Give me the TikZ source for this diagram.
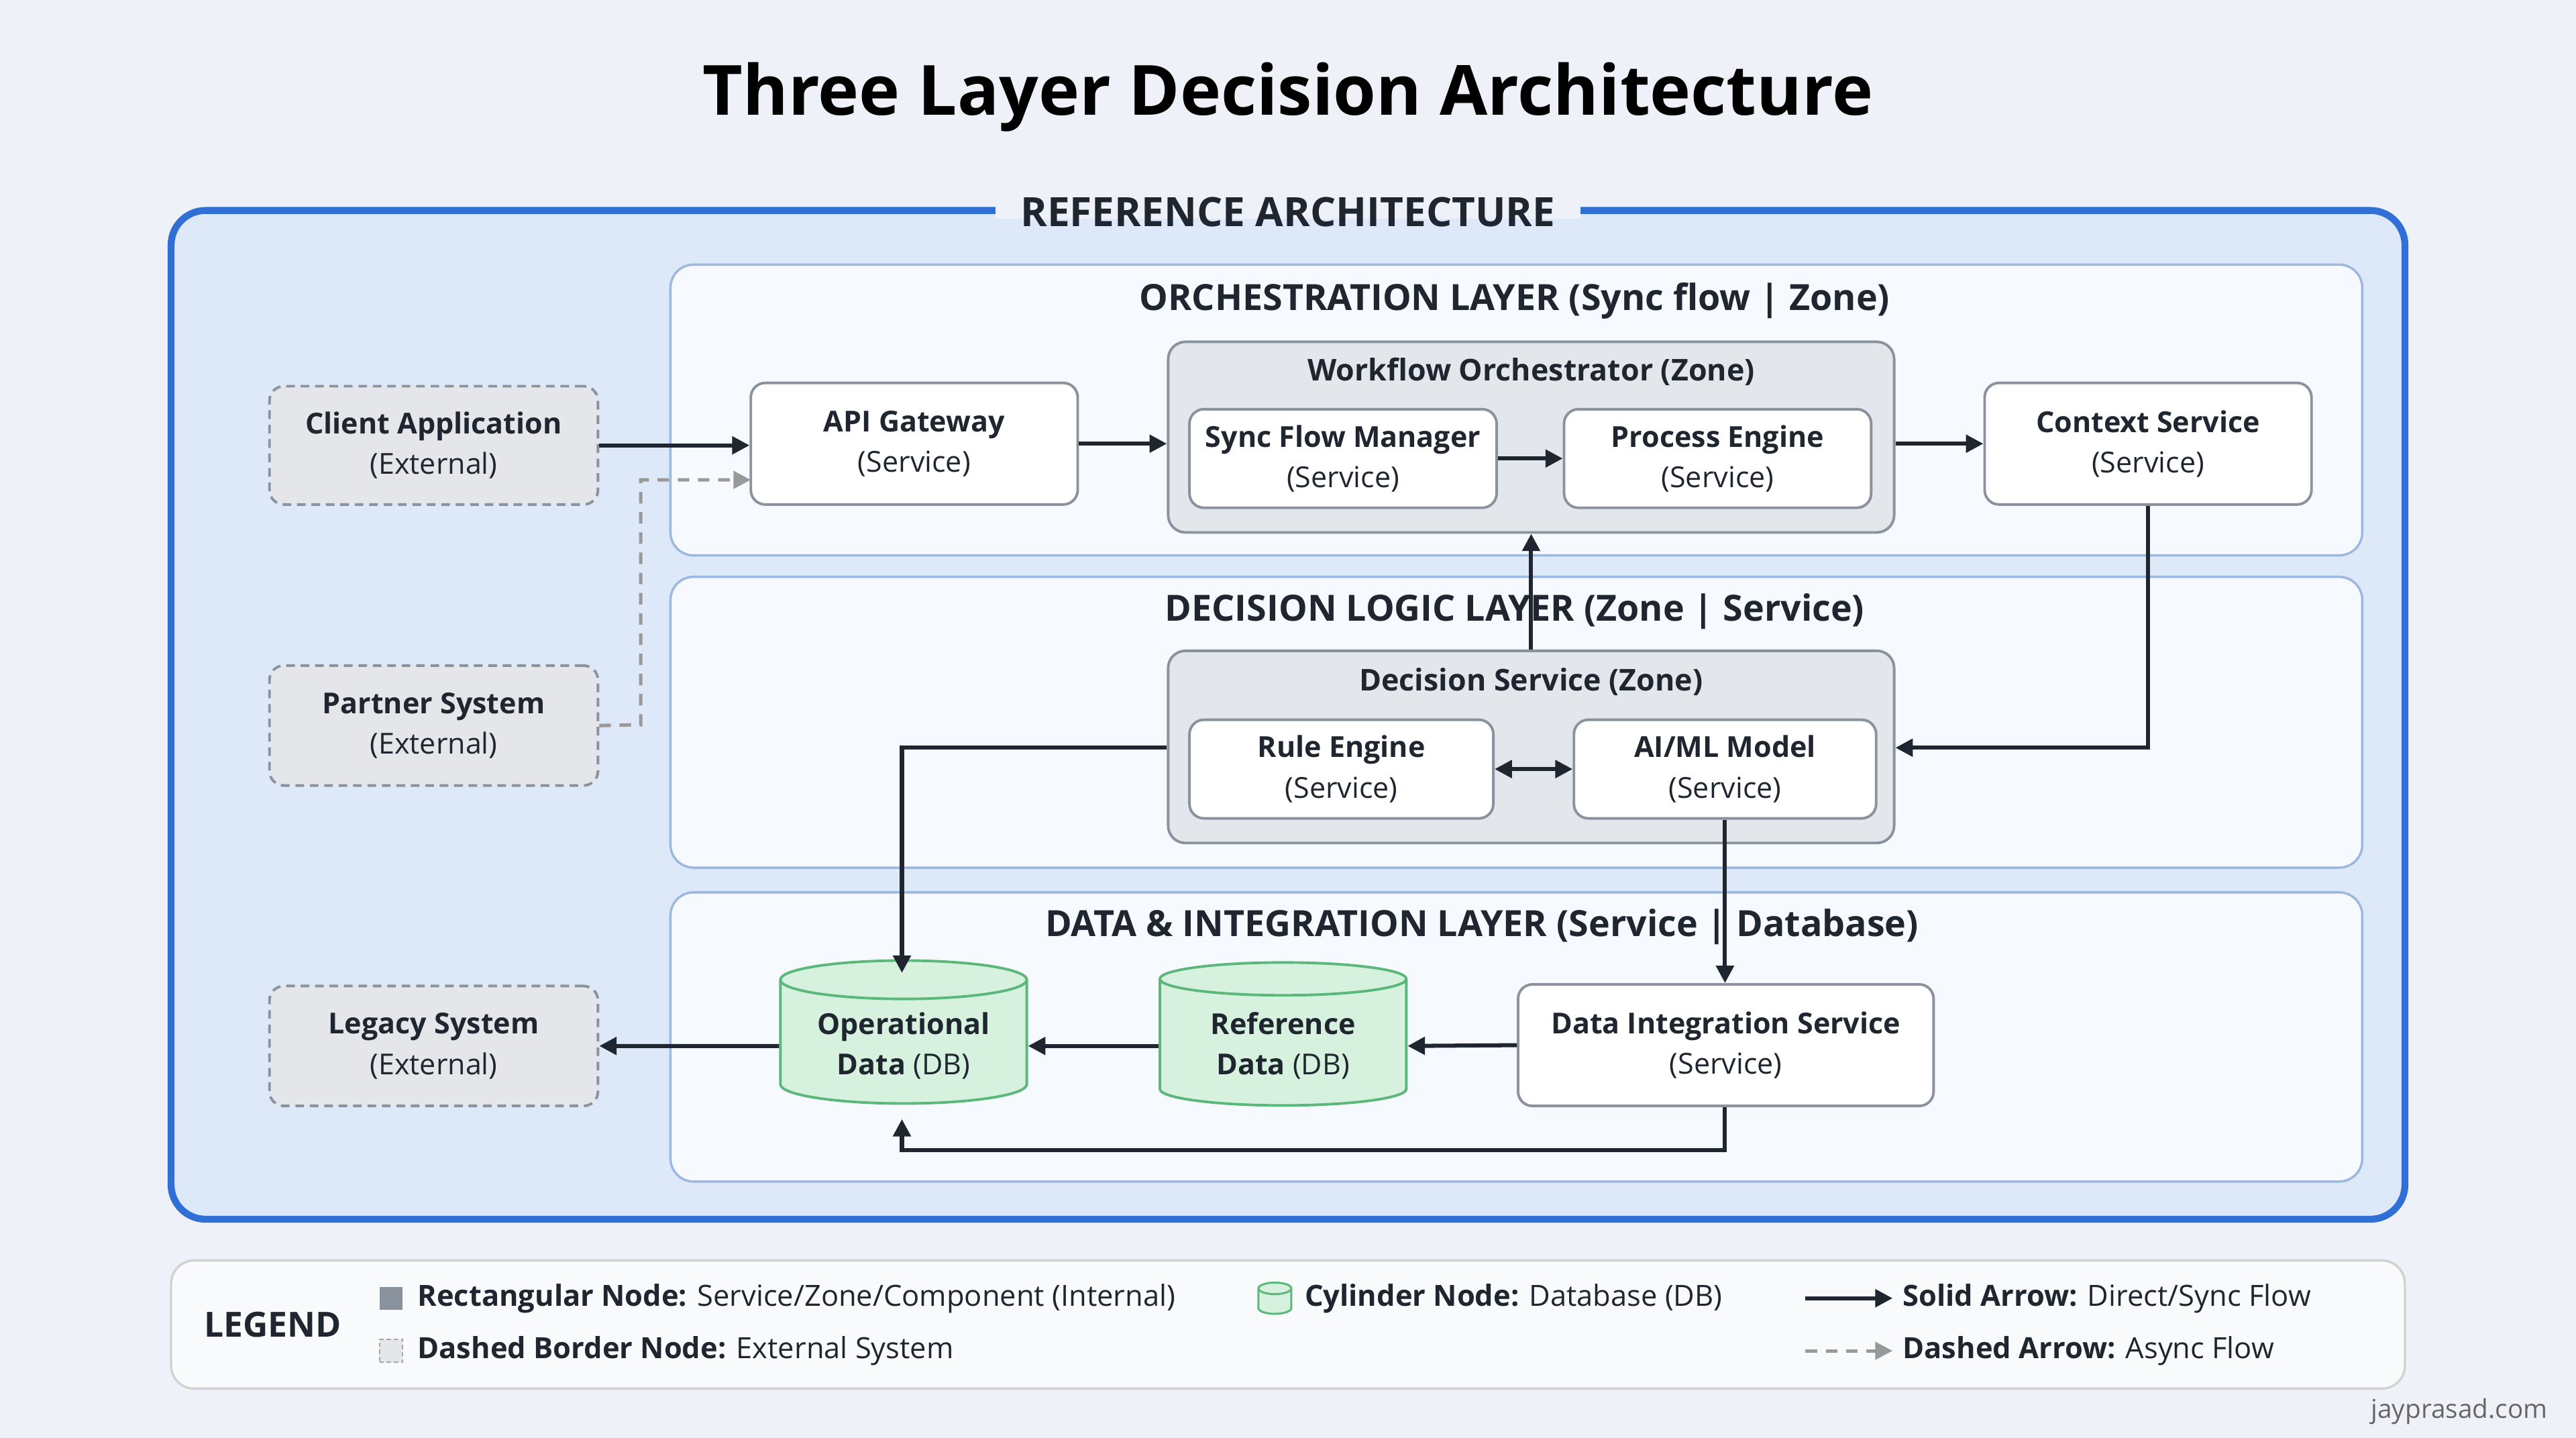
\documentclass[tikz,border=0pt]{standalone}
\usepackage{fontspec}
\setmainfont{Open Sans}
\usetikzlibrary{arrows.meta,shapes.geometric,calc}
\definecolor{bg}{HTML}{EEF2F8}
\definecolor{outerb}{HTML}{2F6FD6}
\definecolor{outerf}{HTML}{DDE8F8}
\definecolor{layerf}{HTML}{F6F9FD}
\definecolor{layerb}{HTML}{9DB8DE}
\definecolor{zonef}{HTML}{E3E6EB}
\definecolor{nodeb}{HTML}{8A929E}
\definecolor{extf}{HTML}{E4E6EA}
\definecolor{dbf}{HTML}{D6F2DE}
\definecolor{dbb}{HTML}{5CB87A}
\definecolor{ink}{HTML}{1F2630}
\begin{document}
\begin{tikzpicture}[x=0.02cm,y=-0.02cm,
  svc/.style={draw=nodeb,line width=0.9pt,fill=white,rounded corners=5pt,align=center,font=\fontsize{10}{14}\selectfont,text=ink},
  ext/.style={svc,fill=extf,dashed,dash pattern=on 3pt off 2pt},
  zone/.style={draw=nodeb,line width=0.9pt,fill=zonef,rounded corners=6pt},
  layer/.style={draw=layerb,line width=0.8pt,fill=layerf,rounded corners=8pt,minimum width=20.6cm},
  db/.style={cylinder,shape border rotate=90,aspect=0.2,draw=dbb,line width=0.9pt,cylinder uses custom fill,cylinder body fill=dbf,cylinder end fill=dbf,minimum width=3cm,minimum height=1.74cm,align=center,font=\fontsize{10}{14}\selectfont,text=ink},
  ttl/.style={font=\bfseries\fontsize{12.5}{15}\selectfont,text=ink},
  ztl/.style={font=\bfseries\fontsize{10.4}{12}\selectfont,text=ink},
  lt/.style={anchor=west,font=\fontsize{10.1}{12}\selectfont,text=ink},
  arr/.style={draw=ink,line width=1.4pt,-{Triangle[length=6pt,width=6pt]}},
  darr/.style={draw=gray!80,line width=1.2pt,dash pattern=on 4pt off 3pt,-{Triangle[length=6pt,width=6pt]}}
]
\fill[bg] (0,0) rectangle (1568,875);
\useasboundingbox (0,0) rectangle (1568,875);
\node[font=\bfseries\fontsize{24}{28}\selectfont,text=black] (title) at (784,59) {Three Layer Decision Architecture};
\node[draw=outerb,line width=2.4pt,fill=outerf,rounded corners=12pt,minimum width=27.2cm,minimum height=12.28cm] (outer) at (784,435) {};
\fill[bg] (606,125) rectangle (962,133);
\node[inner xsep=8pt,font=\bfseries\fontsize{14}{16}\selectfont,text=ink] (outert) at (784,129) {REFERENCE ARCHITECTURE};
% layers
\node[layer,minimum height=3.54cm] (lorch) at (923,249.5) {};
\node[layer,minimum height=3.54cm] (ldec) at (923,439.5) {};
\node[layer,minimum height=3.52cm] (ldata) at (923,631) {};
\node[ttl] (torch) at (922,183) {ORCHESTRATION LAYER (Sync flow | Zone)};
\node[ttl] (tdec) at (922,372) {DECISION LOGIC LAYER (Zone | Service)};
\node[ttl] (tdata) at (902,564) {DATA \& INTEGRATION LAYER (Service | Database)};
% externals
\node[ext,minimum width=4cm,minimum height=1.44cm] (client) at (264,271) {\textbf{Client Application}\\(External)};
\node[ext,minimum width=4cm,minimum height=1.46cm] (partner) at (264,441.5) {\textbf{Partner System}\\(External)};
\node[ext,minimum width=4cm,minimum height=1.46cm] (legacy) at (264,636.5) {\textbf{Legacy System}\\(External)};
% orchestration
\node[svc,minimum width=3.98cm,minimum height=1.48cm] (api) at (556.5,270) {\textbf{API Gateway}\\(Service)};
\node[zone,minimum width=8.84cm,minimum height=2.32cm] (wf) at (932,266) {};
\node[ztl] (wft) at (932,226) {Workflow Orchestrator (Zone)};
\node[svc,minimum width=3.74cm,minimum height=1.2cm] (sync) at (817.5,279) {\textbf{Sync Flow Manager}\\(Service)};
\node[svc,minimum width=3.74cm,minimum height=1.2cm] (proc) at (1045.5,279) {\textbf{Process Engine}\\(Service)};
\node[svc,minimum width=3.98cm,minimum height=1.48cm] (ctx) at (1307.5,270) {\textbf{Context Service}\\(Service)};
% decision
\node[zone,minimum width=8.84cm,minimum height=2.34cm] (ds) at (932,454.5) {};
\node[ztl] (dst) at (932,415) {Decision Service (Zone)};
\node[svc,minimum width=3.7cm,minimum height=1.2cm] (rule) at (816.5,468) {\textbf{Rule Engine}\\(Service)};
\node[svc,minimum width=3.68cm,minimum height=1.2cm] (ai) at (1050,468) {\textbf{AI/ML Model}\\(Service)};
% data
\node[db] (op) at (550,636.5) {\textbf{Operational}\\\textbf{Data} (DB)};
\node[db] (ref) at (781,636.5) {\textbf{Reference}\\\textbf{Data} (DB)};
\node[svc,minimum width=5.06cm,minimum height=1.48cm] (dis) at (1050.5,636) {\textbf{Data Integration Service}\\(Service)};
% coordinates
\coordinate (pe) at (390,441);
\coordinate (pa) at (457,292);
\coordinate (c1) at (1308,455);
\coordinate (d1) at (549,455);
\coordinate (optop) at (549,592);
\coordinate (opbot) at (549,681);
\coordinate (b1) at (1050,700);
% arrows
\draw[arr] (client.east) -- (api.west |- client.east);
\draw[darr] (partner.east) -- (pe) |- (pa);
\draw[arr] (api.east) -- (wf.west |- api.east);
\draw[arr] (sync.east) -- (proc.west);
\draw[arr] (wf.east |- ctx.west) -- (ctx.west);
\draw[arr] (ctx.south) |- (ds.east |- c1);
\draw[arr] (ds.north) -- (wf.south);
\draw[draw=ink,line width=1.4pt,{Triangle[length=6pt,width=6pt]}-{Triangle[length=6pt,width=6pt]}] (rule.east) -- (ai.west);
\draw[arr] (ds.west |- d1) -- (d1) -- (optop);
\draw[arr] (ai.south) -- (dis.north -| ai.south);
\draw[arr] (dis.west) -- (ref.east);
\draw[arr] (ref.west) -- (op.east);
\draw[arr] (op.west) -- (legacy.east);
\draw[arr] (dis.south -| b1) -- (b1) -| (opbot);
% legend
\node[draw=gray!35,line width=0.8pt,fill=white!60!bg,rounded corners=8pt,minimum width=27.2cm,minimum height=1.56cm] (leg) at (784,806) {};
\node[font=\bfseries\fontsize{12}{14}\selectfont,text=ink] (legt) at (166,806) {LEGEND};
\node[fill=nodeb,minimum size=0.28cm,inner sep=0pt] (l1) at (238,790) {};
\node[lt] (l1t) at (248,790) {\textbf{Rectangular Node:} Service/Zone/Component (Internal)};
\node[draw=gray!70,dash pattern=on 1.5pt off 1pt,fill=extf,minimum size=0.28cm,inner sep=0pt] (l2) at (238,822) {};
\node[lt] (l2t) at (248,822) {\textbf{Dashed Border Node:} External System};
\draw[dbb,line width=0.7pt,fill=dbf] (766,784) -- (766,796) arc[start angle=180,end angle=360,x radius=10,y radius=-3.5] -- (786,784) arc[start angle=0,end angle=180,x radius=10,y radius=-3.5] -- cycle;
\draw[dbb,line width=0.7pt] (766,784) arc[start angle=180,end angle=360,x radius=10,y radius=-3.5];
\node[lt] (l3t) at (788,790) {\textbf{Cylinder Node:} Database (DB)};
\coordinate (l4a) at (1099,790); \coordinate (l4b) at (1152,790);
\draw[arr] (l4a) -- (l4b);
\node[lt] (l4t) at (1152,790) {\textbf{Solid Arrow:} Direct/Sync Flow};
\coordinate (l5a) at (1099,822); \coordinate (l5b) at (1152,822);
\draw[darr] (l5a) -- (l5b);
\node[lt] (l5t) at (1152,822) {\textbf{Dashed Arrow:} Async Flow};
\node[font=\fontsize{9}{10}\selectfont,text=gray!80!black] (foot) at (1497,859) {jayprasad.com};
\end{tikzpicture}
\end{document}
